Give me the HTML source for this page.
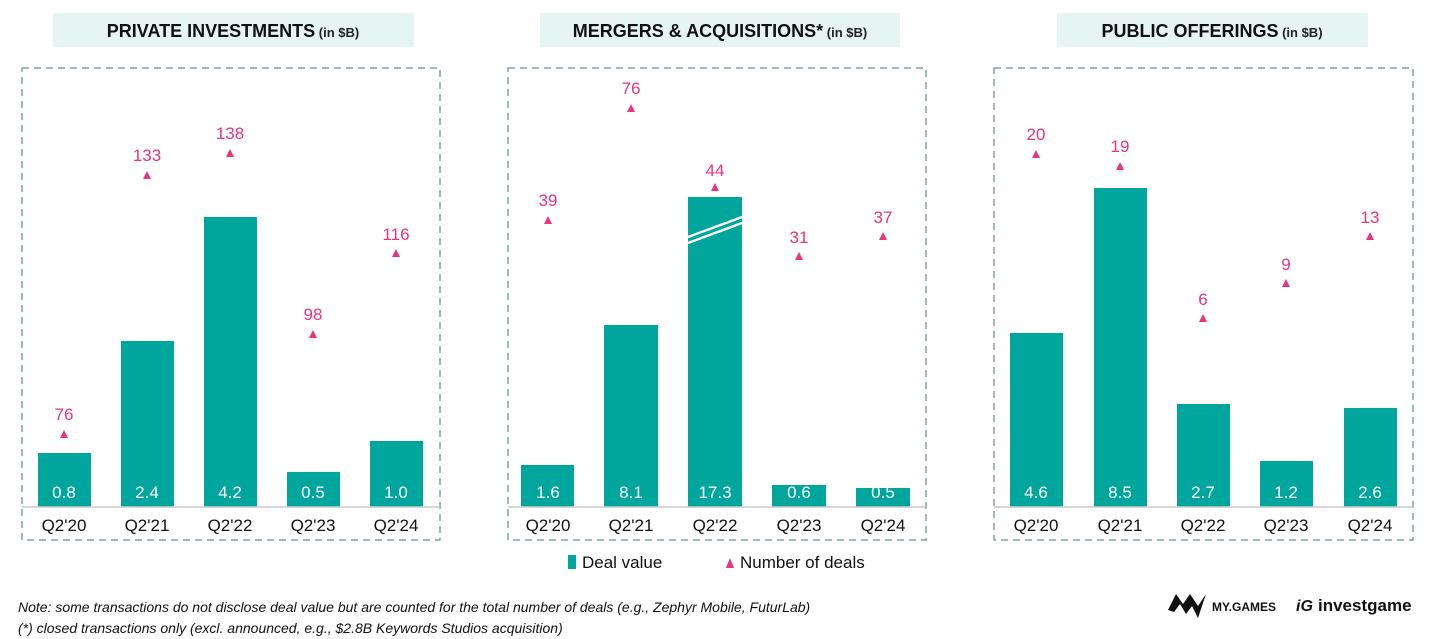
<!DOCTYPE html>
<html><head><meta charset="utf-8"><style>
html,body{margin:0;padding:0;background:#fff;}
svg{display:block;font-family:"Liberation Sans",sans-serif;}
.t{font-weight:bold;font-size:18px;fill:#111;}
.ts{font-size:13px;font-weight:bold;fill:#222;}
.v{fill:#fff;font-size:17px;text-anchor:middle;}
.x{fill:#111;font-size:17px;text-anchor:middle;}
.p{fill:#E8337F;font-size:17px;text-anchor:middle;}
.bar{fill:#00A69C;}
.tri{fill:#E8337F;}
.box{fill:none;stroke:#7FA3A8;stroke-width:1.5;stroke-dasharray:7,5;}
.ax{stroke:#ccc;stroke-width:1.5;}
.n{font-style:italic;font-size:14px;fill:#111;}
</style></head><body>
<svg width="1456" height="639" viewBox="0 0 1456 639">
<rect x="53" y="13" width="361" height="34" fill="#E6F4F4"/>
<text x="233" y="37" text-anchor="middle"><tspan class="t">PRIVATE INVESTMENTS</tspan><tspan class="ts"> (in $B)</tspan></text>
<rect x="540" y="13" width="360" height="34" fill="#E6F4F4"/>
<text x="720" y="37" text-anchor="middle"><tspan class="t">MERGERS &amp; ACQUISITIONS*</tspan><tspan class="ts"> (in $B)</tspan></text>
<rect x="1057" y="13" width="311" height="34" fill="#E6F4F4"/>
<text x="1212" y="37" text-anchor="middle"><tspan class="t">PUBLIC OFFERINGS</tspan><tspan class="ts"> (in $B)</tspan></text>

<rect class="box" x="22" y="68" width="418" height="472"/>
<rect class="box" x="508" y="68" width="418" height="472"/>
<rect class="box" x="994" y="68" width="419" height="472"/>

<g>
<rect class="bar" x="38" y="453" width="53" height="54"/>
<rect class="bar" x="121" y="341" width="53" height="166"/>
<rect class="bar" x="204" y="217" width="53" height="290"/>
<rect class="bar" x="287" y="472" width="53" height="35"/>
<rect class="bar" x="370" y="441" width="53" height="66"/>
<line class="ax" x1="22" y1="507" x2="440" y2="507"/>
<text class="v" x="64" y="498">0.8</text><text class="v" x="147" y="498">2.4</text><text class="v" x="230" y="498">4.2</text><text class="v" x="313" y="498">0.5</text><text class="v" x="396" y="498">1.0</text>
<text class="x" x="64" y="531">Q2'20</text><text class="x" x="147" y="531">Q2'21</text><text class="x" x="230" y="531">Q2'22</text><text class="x" x="313" y="531">Q2'23</text><text class="x" x="396" y="531">Q2'24</text>
<text class="p" x="64" y="420">76</text><path class="tri" d="M60,438 L64,430 L68,438Z"/>
<text class="p" x="147" y="161">133</text><path class="tri" d="M143,179 L147,171 L151,179Z"/>
<text class="p" x="230" y="139">138</text><path class="tri" d="M226,157 L230,149 L234,157Z"/>
<text class="p" x="313" y="320">98</text><path class="tri" d="M309,338 L313,330 L317,338Z"/>
<text class="p" x="396" y="240">116</text><path class="tri" d="M392,257 L396,249 L400,257Z"/>
</g>

<g>
<rect class="bar" x="521" y="465" width="53" height="42"/>
<rect class="bar" x="604" y="325" width="54" height="182"/>
<rect class="bar" x="688" y="197" width="54" height="310"/>
<path d="M688,237 L742,217 M688,243 L742,223" stroke="#fff" stroke-width="2.5"/>
<rect class="bar" x="772" y="485" width="54" height="22"/>
<rect class="bar" x="856" y="488" width="54" height="19"/>
<line class="ax" x1="508" y1="507" x2="926" y2="507"/>
<text class="v" x="548" y="498">1.6</text><text class="v" x="631" y="498">8.1</text><text class="v" x="715" y="498">17.3</text><text class="v" x="799" y="498">0.6</text><text class="v" x="883" y="498">0.5</text>
<text class="x" x="548" y="531">Q2'20</text><text class="x" x="631" y="531">Q2'21</text><text class="x" x="715" y="531">Q2'22</text><text class="x" x="799" y="531">Q2'23</text><text class="x" x="883" y="531">Q2'24</text>
<text class="p" x="548" y="206">39</text><path class="tri" d="M544,224 L548,216 L552,224Z"/>
<text class="p" x="631" y="94">76</text><path class="tri" d="M627,112 L631,104 L635,112Z"/>
<text class="p" x="715" y="176">44</text><path class="tri" d="M711,191 L715,183 L719,191Z"/>
<text class="p" x="799" y="243">31</text><path class="tri" d="M795,260 L799,252 L803,260Z"/>
<text class="p" x="883" y="223">37</text><path class="tri" d="M879,240 L883,232 L887,240Z"/>
</g>

<g>
<rect class="bar" x="1010" y="333" width="53" height="174"/>
<rect class="bar" x="1094" y="188" width="53" height="319"/>
<rect class="bar" x="1177" y="404" width="53" height="103"/>
<rect class="bar" x="1260" y="461" width="53" height="46"/>
<rect class="bar" x="1344" y="408" width="53" height="99"/>
<line class="ax" x1="994" y1="507" x2="1413" y2="507"/>
<text class="v" x="1036" y="498">4.6</text><text class="v" x="1120" y="498">8.5</text><text class="v" x="1203" y="498">2.7</text><text class="v" x="1286" y="498">1.2</text><text class="v" x="1370" y="498">2.6</text>
<text class="x" x="1036" y="531">Q2'20</text><text class="x" x="1120" y="531">Q2'21</text><text class="x" x="1203" y="531">Q2'22</text><text class="x" x="1286" y="531">Q2'23</text><text class="x" x="1370" y="531">Q2'24</text>
<text class="p" x="1036" y="140">20</text><path class="tri" d="M1032,158 L1036,150 L1040,158Z"/>
<text class="p" x="1120" y="152">19</text><path class="tri" d="M1116,170 L1120,162 L1124,170Z"/>
<text class="p" x="1203" y="305">6</text><path class="tri" d="M1199,322 L1203,314 L1207,322Z"/>
<text class="p" x="1286" y="270">9</text><path class="tri" d="M1282,287 L1286,279 L1290,287Z"/>
<text class="p" x="1370" y="223">13</text><path class="tri" d="M1366,240 L1370,232 L1374,240Z"/>
</g>

<rect class="bar" x="568" y="555" width="8" height="14"/>
<text x="582" y="568" font-size="17" fill="#111">Deal value</text>
<path class="tri" d="M726,568 L730,558 L734,568Z"/>
<text x="740" y="568" font-size="17" fill="#111">Number of deals</text>

<text class="n" x="18" y="612">Note: some transactions do not disclose deal value but are counted for the total number of deals (e.g., Zephyr Mobile, FuturLab)</text>
<text class="n" x="18" y="633">(*) closed transactions only (excl. announced, e.g., $2.8B Keywords Studios acquisition)</text>

<path d="M1168,610 L1176,594 L1183,604 L1190,594 L1198,606 L1206,594 L1198,618 L1192,606 L1186,614 L1180,604 L1174,612Z" fill="#111"/>
<text x="1212" y="611" font-size="12" font-weight="bold" fill="#111">MY.GAMES</text>
<text x="1296" y="611" font-size="16" font-weight="bold" font-style="italic" fill="#111">iG</text>
<text x="1318" y="611" font-size="17" font-weight="bold" fill="#111">investgame</text>
</svg>
</body></html>
